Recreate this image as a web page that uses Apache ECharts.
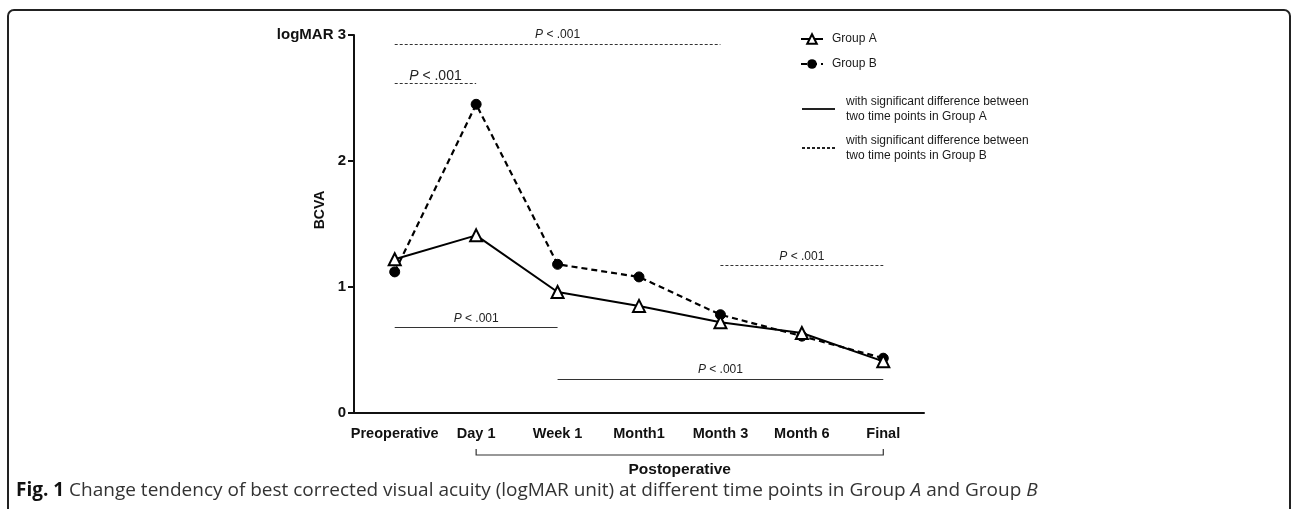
<!DOCTYPE html>
<html>
<head>
<meta charset="utf-8">
<script src="https://cdn.jsdelivr.net/npm/echarts@6/dist/echarts.min.js"></script>
<style>
  html, body { margin: 0; padding: 0; background: #fff; }
  #chart { width: 1292px; height: 509px; }
</style>
</head>
<body>
<div id="chart"></div>
<script>
// time points on the x axis
var categories = ['Preoperative', 'Day 1', 'Week 1', 'Month1', 'Month 3', 'Month 6', 'Final'];
// mean BCVA (logMAR)
var groupA = [1.22, 1.41, 0.96, 0.85, 0.72, 0.635, 0.41];
var groupB = [1.12, 2.45, 1.18, 1.08, 0.78, 0.61, 0.435];
var yTicks = [0, 1, 2, 3];
// significance brackets: [from, to, level]
var sigA = [['Preoperative', 'Week 1', 0.68], ['Week 1', 'Final', 0.27]];
var sigB = [['Preoperative', 'Month 3', 2.93], ['Preoperative', 'Day 1', 2.62], ['Month 3', 'Final', 1.17]];
var pText = 'P < .001';
var postopRange = ['Day 1', 'Final'];
var legendA = 'with significant difference between\ntwo time points in Group A';
var legendB = 'with significant difference between\ntwo time points in Group B';

var font = 'Liberation Sans, Arial, sans-serif';
var chart = echarts.init(document.getElementById('chart'));

function sigLines(list, big) {
    return list.map(function (s, i) {
        var y = s[2];
        var large = big && i === 1;
        return [
            { coord: [categories.indexOf(s[0]), y],
              label: { distance: large ? 0 : 3, fontSize: large ? 14 : 12,
                       rich: { i: { fontStyle: 'italic', fontSize: large ? 14 : 12, fontFamily: font, color: '#222' } } } },
            { coord: [categories.indexOf(s[1]), y] }
        ];
    });
}

var markLabel = {
    show: true,
    position: 'middle',
    formatter: function () { return '{i|P}' + pText.slice(1); },
    fontFamily: font,
    fontSize: 12,
    color: '#222',
    rich: { i: { fontStyle: 'italic', fontSize: 12, fontFamily: font, color: '#222' } }
};

var option = {
    animation: false,
    backgroundColor: '#fff',
    grid: { left: 354, top: 35, width: 570, height: 378 },
    xAxis: {
        type: 'category',
        data: categories,
        boundaryGap: true,
        axisLine: { lineStyle: { color: '#111', width: 2 } },
        axisTick: { alignWithLabel: true, length: 6, lineStyle: { color: '#111', width: 2 } },
        axisLabel: { interval: 0, color: '#111', fontFamily: font, fontWeight: 'bold', fontSize: 14.5, margin: 13 },
        splitLine: { show: false }
    },
    yAxis: {
        type: 'value',
        min: 0,
        max: 3,
        interval: 1,
        name: 'BCVA',
        nameLocation: 'middle',
        nameRotate: 90,
        nameGap: 27,
        nameMoveOverlap: false,
        nameTextStyle: { color: '#111', fontFamily: font, fontWeight: 'bold', fontSize: 14, padding: [0, 0, 0, 28] },
        axisLine: { show: true, lineStyle: { color: '#111', width: 2 } },
        axisTick: { show: true, length: 6, lineStyle: { color: '#111', width: 2 } },
        axisLabel: {
            color: '#111', fontFamily: font, fontWeight: 'bold', fontSize: 15, margin: 8,
            formatter: function (v) { return v === yTicks[yTicks.length - 1] ? 'logMAR ' + v : String(v); }
        },
        splitLine: { show: false }
    },
    legend: [{
        data: ['Group A', 'Group B'],
        orient: 'vertical',
        left: 795,
        top: 28,
        itemWidth: 22,
        itemHeight: 12,
        itemGap: 13,
        textStyle: { fontFamily: font, fontSize: 12, color: '#1a1a1a', padding: [0, 0, 0, 4] }
    }, {
        data: [legendA, legendB],
        orient: 'vertical',
        left: 796,
        top: 89,
        itemWidth: 33,
        itemHeight: 10,
        itemGap: 9,
        itemStyle: { opacity: 0 },
        textStyle: { fontFamily: font, fontSize: 12, lineHeight: 15, color: '#1a1a1a', padding: [0, 0, 0, 6] }
    }],
    series: [{
        name: 'Group A',
        type: 'line',
        data: groupA,
        z: 4,
        symbol: 'triangle',
        symbolSize: 12,
        itemStyle: { color: '#fff', borderColor: '#000', borderWidth: 2 },
        lineStyle: { color: '#000', width: 2 },
        markLine: {
            silent: true,
            symbol: 'none',
            lineStyle: { color: '#333', width: 1, type: 'solid' },
            label: markLabel,
            data: sigLines(sigA, false)
        }
    }, {
        name: 'Group B',
        type: 'line',
        data: groupB,
        z: 3,
        symbol: 'circle',
        symbolSize: 10,
        itemStyle: { color: '#000', borderColor: '#000' },
        lineStyle: { color: '#000', width: 2.2, type: [6, 4] },
        markLine: {
            silent: true,
            symbol: 'none',
            lineStyle: { color: '#333', width: 1, type: [3, 2] },
            label: markLabel,
            data: sigLines(sigB, true)
        }
    }, {
        name: legendA,
        type: 'line',
        data: [],
        symbol: 'none',
        lineStyle: { color: '#222', width: 1.2, type: 'solid' },
        itemStyle: { color: '#222' }
    }, {
        name: legendB,
        type: 'line',
        data: [],
        symbol: 'none',
        lineStyle: { color: '#222', width: 1.2, type: [3, 2] },
        itemStyle: { color: '#222' }
    }]
};
chart.setOption(option);

// "Postoperative" bracket under the x axis, plus the frame and caption
var p0 = chart.convertToPixel({ gridIndex: 0 }, [categories.indexOf(postopRange[0]), 0]);
var p1 = chart.convertToPixel({ gridIndex: 0 }, [categories.indexOf(postopRange[1]), 0]);
var by = p0[1] + 42;
chart.setOption({
    graphic: [{
        type: 'rect',
        shape: { x: 8, y: 10, width: 1282, height: 560, r: 6 },
        style: { fill: null, stroke: '#222', lineWidth: 2 },
        silent: true
    }, {
        type: 'polyline',
        shape: { points: [[p0[0], by - 6], [p0[0], by], [p1[0], by], [p1[0], by - 6]] },
        style: { fill: null, stroke: '#333', lineWidth: 1.2 },
        silent: true
    }, {
        type: 'text',
        x: (p0[0] + p1[0]) / 2,
        y: by + 15,
        style: { text: 'Postoperative', align: 'center', verticalAlign: 'middle',
                 font: 'bold 15.5px ' + font, fill: '#111' }
    }, {
        type: 'text',
        x: 16,
        y: 491,
        style: {
            text: '{b|Fig. 1} Change tendency of best corrected visual acuity (logMAR unit) at different time points in Group {i|A} and Group {i|B}',
            verticalAlign: 'middle',
            fontFamily: 'Open Sans, sans-serif',
            fontSize: 19,
            fill: '#333',
            rich: {
                b: { fontWeight: 'bold', fontFamily: 'Open Sans, sans-serif', fontSize: 19, fill: '#111' },
                i: { fontStyle: 'italic', fontFamily: 'Open Sans, sans-serif', fontSize: 19, fill: '#333' }
            }
        }
    }]
});
window.addEventListener('resize', function () { chart.resize(); });
</script>
</body>
</html>
